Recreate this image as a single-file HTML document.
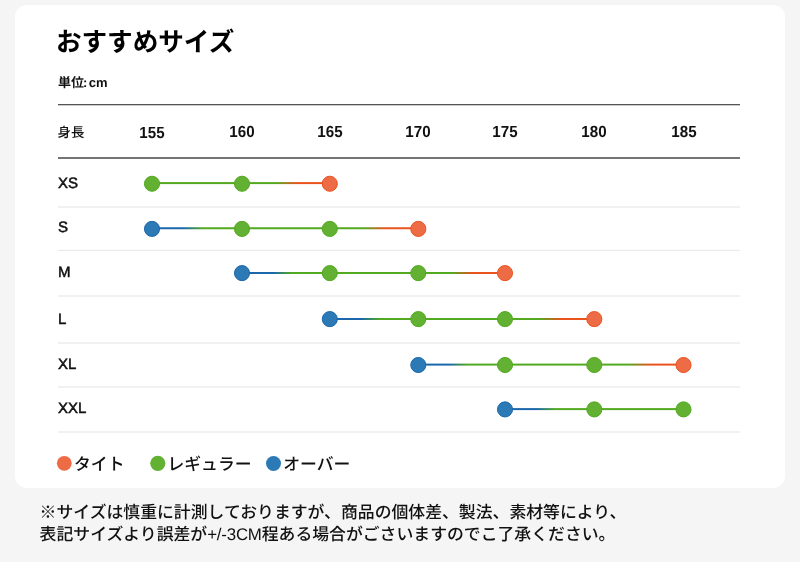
<!DOCTYPE html>
<html lang="ja">
<head>
<meta charset="utf-8">
<title>おすすめサイズ</title>
<style>
html,body{margin:0;padding:0;}
body{width:800px;height:562px;background:#f5f5f5;position:relative;overflow:hidden;
 font-family:"Liberation Sans","Noto Sans CJK JP",sans-serif;color:#111;text-rendering:geometricPrecision;}
.card{position:absolute;left:15px;top:5px;width:769.5px;height:483px;background:#fff;border-radius:12px;}
svg{position:absolute;left:0;top:0;}
.text{position:absolute;left:0;top:0;width:800px;height:562px;will-change:transform;}
.abs{position:absolute;white-space:nowrap;line-height:1;}
h1{margin:0;font-size:25.6px;font-weight:700;color:#000;}
.unit{font-size:13px;font-weight:700;}
.unit .col{margin-left:-1px;}
.unit .cm{margin-left:-2.2px;}
.hlabel{font-size:13.4px;font-weight:500;}
.num{font-size:16.1px;font-weight:700;width:60px;height:16px;text-align:center;}
.size{font-size:15px;font-weight:400;height:15px;-webkit-text-stroke:0.5px #111;}
.leg{font-size:16.85px;font-weight:500;}
.note{font-size:16.85px;font-weight:500;}
.lat{letter-spacing:-0.2px;}
.cjk{font-family:"Noto Sans CJK JP",sans-serif;}
</style>
</head>
<body>
<div class="card"></div>
<svg width="800" height="562" viewBox="0 0 800 562">
<defs>
<linearGradient id="go" x1="0" y1="0" x2="1" y2="0"><stop offset="0.38" stop-color="#53aa20"/><stop offset="0.63" stop-color="#ea521e"/></linearGradient>
<linearGradient id="bg" x1="0" y1="0" x2="1" y2="0"><stop offset="0.35" stop-color="#1a67ab"/><stop offset="0.57" stop-color="#53aa20"/></linearGradient>
</defs>
<rect x="58" y="104" width="682" height="1.3" fill="#555"/>
<rect x="58" y="157.1" width="682" height="1.8" fill="#666"/>
<rect x="58" y="206" width="682" height="2" fill="#f1f1f1"/>
<rect x="58" y="249.9" width="682" height="1.15" fill="#eaeaea"/>
<rect x="58" y="295" width="682" height="2" fill="#f1f1f1"/>
<rect x="58" y="342" width="682" height="2" fill="#f1f1f1"/>
<rect x="58" y="386" width="682" height="2" fill="#f1f1f1"/>
<rect x="58" y="431" width="682" height="2" fill="#f1f1f1"/>
<rect x="152" y="182.10" width="90.0" height="2" fill="#53aa20"/>
<rect x="242" y="182.10" width="87.8" height="2" fill="url(#go)"/>
<circle cx="152" cy="183.75" r="7.55" fill="#62b132" stroke="#53aa20" stroke-width="1"/>
<circle cx="242" cy="183.75" r="7.55" fill="#62b132" stroke="#53aa20" stroke-width="1"/>
<circle cx="329.8" cy="183.75" r="7.55" fill="#ee6c45" stroke="#ea521e" stroke-width="1"/>
<rect x="152" y="227.25" width="90.0" height="2" fill="url(#bg)"/>
<rect x="242" y="227.25" width="87.8" height="2" fill="#53aa20"/>
<rect x="329.8" y="227.25" width="88.5" height="2" fill="url(#go)"/>
<circle cx="152" cy="228.9" r="7.55" fill="#2b7ab6" stroke="#1a67ab" stroke-width="1"/>
<circle cx="242" cy="228.9" r="7.55" fill="#62b132" stroke="#53aa20" stroke-width="1"/>
<circle cx="329.8" cy="228.9" r="7.55" fill="#62b132" stroke="#53aa20" stroke-width="1"/>
<circle cx="418.3" cy="228.9" r="7.55" fill="#ee6c45" stroke="#ea521e" stroke-width="1"/>
<rect x="242" y="272.00" width="87.8" height="2" fill="url(#bg)"/>
<rect x="329.8" y="272.00" width="88.5" height="2" fill="#53aa20"/>
<rect x="418.3" y="272.00" width="86.7" height="2" fill="url(#go)"/>
<circle cx="242" cy="273.1" r="7.55" fill="#2b7ab6" stroke="#1a67ab" stroke-width="1"/>
<circle cx="329.8" cy="273.1" r="7.55" fill="#62b132" stroke="#53aa20" stroke-width="1"/>
<circle cx="418.3" cy="273.1" r="7.55" fill="#62b132" stroke="#53aa20" stroke-width="1"/>
<circle cx="505" cy="273.1" r="7.55" fill="#ee6c45" stroke="#ea521e" stroke-width="1"/>
<rect x="329.8" y="318.00" width="88.5" height="2" fill="url(#bg)"/>
<rect x="418.3" y="318.00" width="86.7" height="2" fill="#53aa20"/>
<rect x="505" y="318.00" width="89.3" height="2" fill="url(#go)"/>
<circle cx="329.8" cy="319.1" r="7.55" fill="#2b7ab6" stroke="#1a67ab" stroke-width="1"/>
<circle cx="418.3" cy="319.1" r="7.55" fill="#62b132" stroke="#53aa20" stroke-width="1"/>
<circle cx="505" cy="319.1" r="7.55" fill="#62b132" stroke="#53aa20" stroke-width="1"/>
<circle cx="594.3" cy="319.1" r="7.55" fill="#ee6c45" stroke="#ea521e" stroke-width="1"/>
<rect x="418.3" y="363.60" width="86.7" height="2" fill="url(#bg)"/>
<rect x="505" y="363.60" width="89.3" height="2" fill="#53aa20"/>
<rect x="594.3" y="363.60" width="89.2" height="2" fill="url(#go)"/>
<circle cx="418.3" cy="365.0" r="7.55" fill="#2b7ab6" stroke="#1a67ab" stroke-width="1"/>
<circle cx="505" cy="365.0" r="7.55" fill="#62b132" stroke="#53aa20" stroke-width="1"/>
<circle cx="594.3" cy="365.0" r="7.55" fill="#62b132" stroke="#53aa20" stroke-width="1"/>
<circle cx="683.5" cy="365.0" r="7.55" fill="#ee6c45" stroke="#ea521e" stroke-width="1"/>
<rect x="505" y="408.10" width="89.3" height="2" fill="url(#bg)"/>
<rect x="594.3" y="408.10" width="89.2" height="2" fill="#53aa20"/>
<circle cx="505" cy="409.4" r="7.55" fill="#2b7ab6" stroke="#1a67ab" stroke-width="1"/>
<circle cx="594.3" cy="409.4" r="7.55" fill="#62b132" stroke="#53aa20" stroke-width="1"/>
<circle cx="683.5" cy="409.4" r="7.55" fill="#62b132" stroke="#53aa20" stroke-width="1"/>
<circle cx="64.3" cy="463.3" r="7.4" fill="#ee6c45"/>
<circle cx="157.8" cy="463.3" r="7.6" fill="#62b132"/>
<circle cx="273.5" cy="463.5" r="7.5" fill="#2b7ab6"/>
</svg>
<div class="text">
<h1 class="abs" style="left:55.9px;top:31px;transform:scaleY(1.02);">おすすめサイズ</h1>
<div class="abs unit" style="left:58px;top:76px;">単位<span class="col">:</span><span class="cm"> cm</span></div>
<div class="abs hlabel" style="left:57.6px;top:126px;">身長</div>
<div class="abs num" style="left:121.85px;top:125px;transform:scaleX(0.94);">155</div>
<div class="abs num" style="left:211.6px;top:124px;transform:scaleX(0.94);">160</div>
<div class="abs num" style="left:299.7px;top:124px;transform:scaleX(0.94);">165</div>
<div class="abs num" style="left:387.85px;top:124px;transform:scaleX(0.94);">170</div>
<div class="abs num" style="left:474.5px;top:124px;transform:scaleX(0.94);">175</div>
<div class="abs num" style="left:564.3px;top:124px;transform:scaleX(0.94);">180</div>
<div class="abs num" style="left:653.9px;top:124px;transform:scaleX(0.94);">185</div>
<div class="abs size" style="left:58px;top:176px;">XS</div>
<div class="abs size" style="left:58px;top:220px;">S</div>
<div class="abs size" style="left:58px;top:265px;">M</div>
<div class="abs size" style="left:58px;top:312px;">L</div>
<div class="abs size" style="left:58px;top:357px;">XL</div>
<div class="abs size" style="left:58px;top:401px;">XXL</div>
<div class="abs leg" style="left:74.0px;top:457px;">タイト</div>
<div class="abs leg" style="left:167.4px;top:457px;">レギュラー</div>
<div class="abs leg" style="left:283.2px;top:457px;">オーバー</div>
<div class="abs note" style="left:39.6px;top:503px;"><span class="cjk">※</span>サイズは慎重に計測しておりますが、商品の個体差、製法、素材等により、</div>
<div class="abs note" style="left:39.6px;top:527px;">表記サイズより誤差が<span class="lat">+/-3CM</span>程ある場合がごさいますのでこ了承ください。</div>
</div>
</body>
</html>
